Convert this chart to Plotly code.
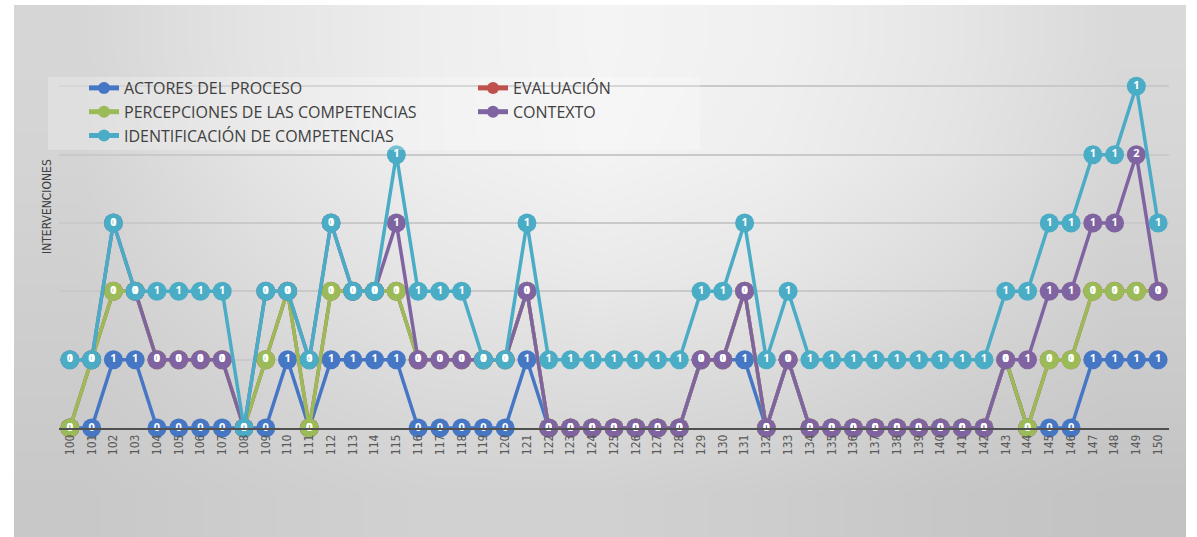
import plotly.graph_objects as go

W, H = 1197, 537

# categories on the x axis
intervenciones = list(range(100, 151))

# series values (stacked line chart, each label shows the series' own value)
actores = [0, 0, 1, 1, 0, 0, 0, 0, 0, 0,
           1, 0, 1, 1, 1, 1, 0, 0, 0, 0,
           0, 1, 0, 0, 0, 0, 0, 0, 0, 1,
           1, 1, 0, 1, 0, 0, 0, 0, 0, 0,
           0, 0, 0, 1, 0, 0, 0, 1, 1, 1,
           1]
evaluacion = [0, 1, 1, 1, 1, 1, 1, 1, 0, 1,
              1, 0, 1, 1, 1, 1, 1, 1, 1, 1,
              1, 1, 0, 0, 0, 0, 0, 0, 0, 0,
              0, 1, 0, 0, 0, 0, 0, 0, 0, 0,
              0, 0, 0, 0, 0, 1, 1, 1, 1, 1,
              1]
percepciones = [0, 0, 0, 0, 0, 0, 0, 0, 0, 0,
                0, 0, 0, 0, 0, 0, 0, 0, 0, 0,
                0, 0, 0, 0, 0, 0, 0, 0, 0, 0,
                0, 0, 0, 0, 0, 0, 0, 0, 0, 0,
                0, 0, 0, 0, 0, 0, 0, 0, 0, 0,
                0]
contexto = [1, 0, 1, 0, 0, 0, 0, 0, 0, 1,
            0, 1, 1, 0, 0, 1, 0, 0, 0, 0,
            0, 0, 0, 0, 0, 0, 0, 0, 0, 0,
            0, 0, 0, 0, 0, 0, 0, 0, 0, 0,
            0, 0, 0, 0, 1, 1, 1, 1, 1, 2,
            0]
identificacion = [0, 0, 0, 0, 1, 1, 1, 1, 0, 0,
                  0, 0, 0, 0, 0, 1, 1, 1, 1, 0,
                  0, 1, 1, 1, 1, 1, 1, 1, 1, 1,
                  1, 1, 1, 1, 1, 1, 1, 1, 1, 1,
                  1, 1, 1, 1, 1, 1, 1, 1, 1, 1,
                  1]

series = [
    ("ACTORES DEL PROCESO", actores, "#4677c4", "legend"),
    ("EVALUACIÓN", evaluacion, "#c0504d", "legend2"),
    ("PERCEPCIONES DE LAS COMPETENCIAS", percepciones, "#9bbb59", "legend"),
    ("CONTEXTO", contexto, "#8064a2", "legend2"),
    ("IDENTIFICACIÓN DE COMPETENCIAS", identificacion, "#4bacc6", "legend"),
]

# soft grey backdrop (style only), rows bottom -> top
bg_shade = [
    [200, 205, 209, 209, 205, 199, 195],
    [204, 212, 219, 221, 217, 209, 202],
    [208, 220, 230, 234, 230, 220, 208],
    [212, 227, 238, 243, 238, 228, 214],
    [214, 228, 238, 244, 240, 230, 217],
]

narrow = "Liberation Sans Narrow, DejaVu Sans Condensed, Roboto Condensed, Roboto, sans-serif"

fig = go.Figure()

fig.add_trace(go.Heatmap(
    z=bg_shade, zsmooth="best", zmin=0, zmax=255,
    colorscale=[[0, "rgb(0,0,0)"], [1, "rgb(255,255,255)"]],
    showscale=False, hoverinfo="skip", xaxis="x", yaxis="y",
))

# lines + markers
for name, vals, color, leg in series:
    fig.add_trace(go.Scatter(
        x=intervenciones, y=vals, name=name, stackgroup="lines", fill="none",
        mode="lines+markers", xaxis="x2", yaxis="y2", legend=leg,
        line=dict(color=color, width=3.5),
        marker=dict(color=color, size=19, symbol="circle"),
        cliponaxis=False,
    ))

# data labels on top of everything, like the original
for name, vals, color, leg in series:
    fig.add_trace(go.Scatter(
        x=intervenciones, y=vals, stackgroup="labels", fill="none",
        mode="text", text=[str(v) for v in vals], xaxis="x2", yaxis="y2",
        textfont=dict(color="white", size=11, family="Open Sans", weight="bold"),
        showlegend=False, hoverinfo="skip", cliponaxis=False,
    ))

legend_font = dict(family="Open Sans", size=16, color="#404040")

fig.update_layout(
    width=W, height=H,
    margin=dict(l=0, r=0, t=0, b=0),
    paper_bgcolor="white",
    plot_bgcolor="rgba(0,0,0,0)",
    xaxis=dict(domain=[14 / W, 1186 / W], range=[-0.4, 6.4], visible=False, fixedrange=True),
    yaxis=dict(domain=[0, 1 - 5 / H], range=[-0.4, 4.4], visible=False, fixedrange=True),
    xaxis2=dict(
        domain=[59 / W, 1169 / W], anchor="y2", range=[99.5, 150.5],
        tickmode="array", tickvals=intervenciones,
        ticktext=[str(v) for v in intervenciones],
        tickangle=-90, tickfont=dict(family=narrow, size=12, color="#595959"),
        showgrid=False, showline=True, linecolor="#505050", linewidth=1.5,
        ticks="", zeroline=False,
    ),
    yaxis2=dict(
        domain=[1 - 428 / H, 1 - 18 / H], anchor="x2", range=[0, 6],
        dtick=1, showticklabels=False, showgrid=True,
        gridcolor="#c9c9c9", gridwidth=1.5, zeroline=False, showline=False,
    ),
    legend=dict(
        x=84 / W, y=1 - 71 / H, xanchor="left", yanchor="top",
        bgcolor="rgba(0,0,0,0)", font=legend_font,
        itemsizing="constant", traceorder="normal",
    ),
    legend2=dict(
        x=473 / W, y=1 - 71 / H, xanchor="left", yanchor="top",
        bgcolor="rgba(0,0,0,0)", font=legend_font,
        itemsizing="constant", traceorder="normal",
    ),
    annotations=[dict(
        text="INTERVENCIONES", xref="paper", yref="paper",
        x=47 / W, y=1 - 207 / H, xanchor="center", yanchor="middle",
        textangle=-90, showarrow=False,
        font=dict(family=narrow, size=12, color="#404040"),
    )],
    shapes=[dict(
        type="rect", xref="paper", yref="paper", layer="above",
        x0=48 / W, x1=700 / W, y0=1 - 150 / H, y1=1 - 77 / H,
        fillcolor="rgba(255,255,255,0.25)", line=dict(width=0),
    )],
)

# the page body has a default 8px margin; drop it so the chart sits at (0, 0)
fig.write_html("out.html", config={"displayModeBar": False},
               post_script="document.body.style.margin = '0';")
